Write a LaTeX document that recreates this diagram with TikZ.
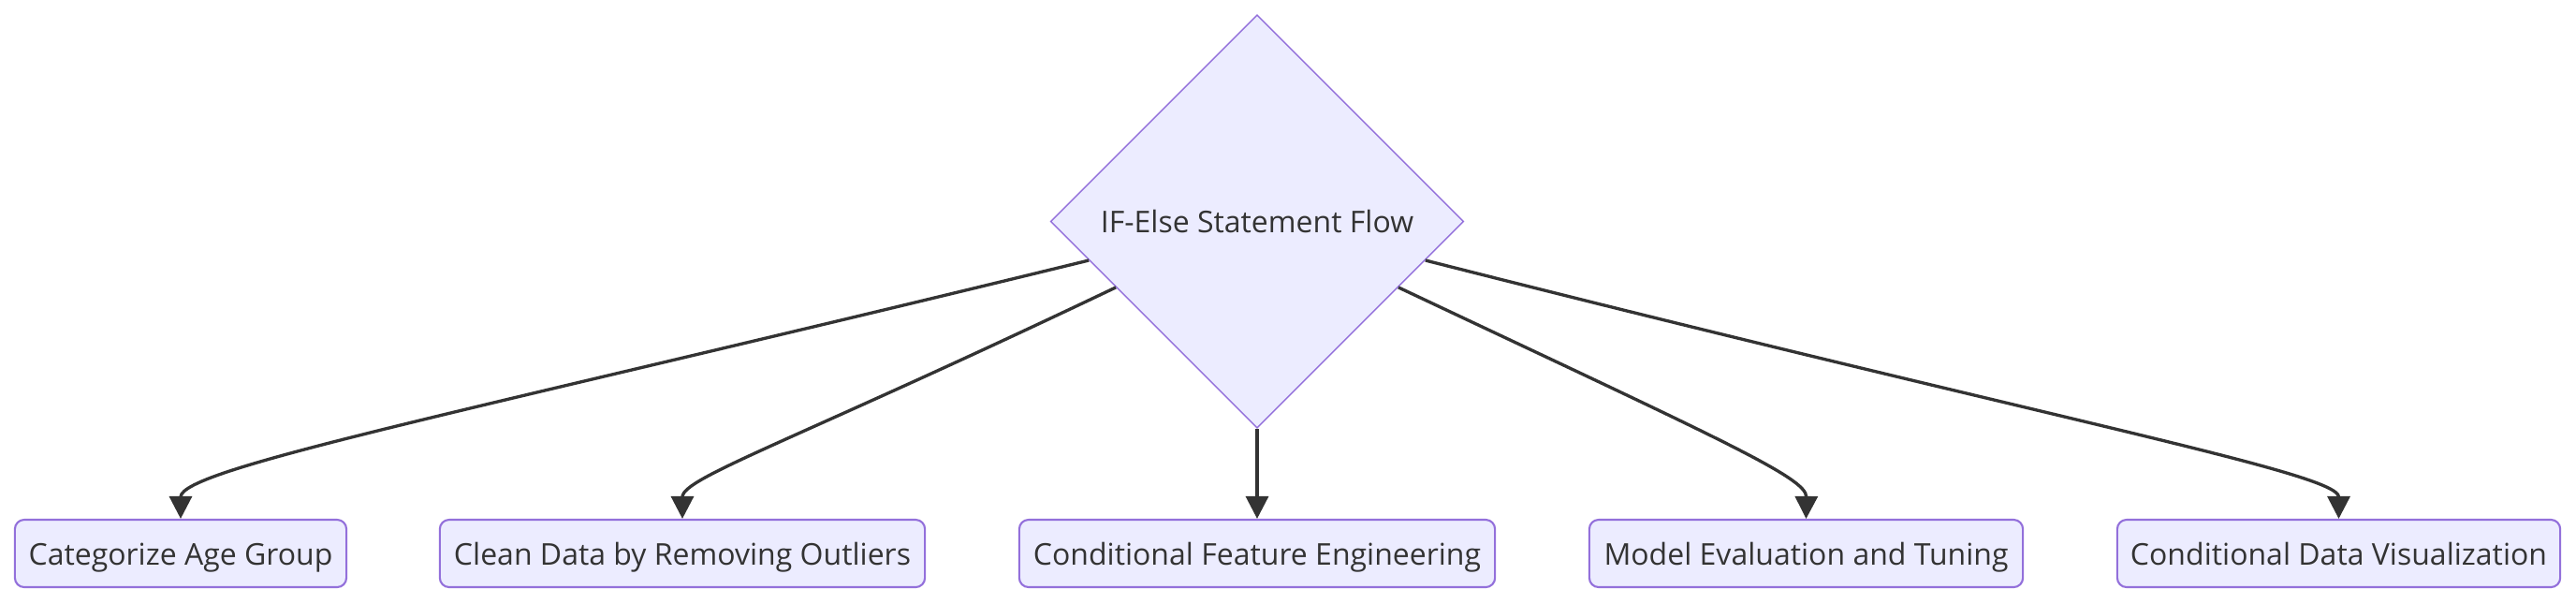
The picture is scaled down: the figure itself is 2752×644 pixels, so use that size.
\documentclass[tikz,border=0pt]{standalone}
\usepackage{fontspec}
\setmainfont{Open Sans}
\usetikzlibrary{shapes.geometric,arrows.meta}
\definecolor{nodefill}{HTML}{ECECFF}
\definecolor{nodeline}{HTML}{9370DB}
\definecolor{inkgray}{HTML}{333333}

\begin{document}
\begin{tikzpicture}[x=0.01cm, y=-0.01cm, >={Triangle[length=2.4mm,width=2.4mm]},
    every node/.style={font=\fontsize{9.1}{11}\selectfont, text=inkgray},
    decision/.style={diamond, aspect=1, draw=nodeline, fill=nodefill, line width=0.4pt, minimum size=4.41cm, inner sep=0pt},
    task/.style={rectangle, rounded corners=1mm, draw=nodeline, fill=nodefill, line width=0.6pt, minimum height=0.72cm, inner xsep=0pt, text height=0.90em, text depth=0.18em},
    flow/.style={->, draw=inkgray, line width=0.95pt}]
    \useasboundingbox (0,0) rectangle (2752,644);

    % --- 1. Rombo de decision ---
    \node[decision] (ifelse) at (1343,236.5) {IF-Else Statement Flow};

    % --- 2. Tareas ---
    \node[task, minimum width=3.54cm] (agegroup) at (193,591) {Categorize Age Group};
    \node[task, minimum width=5.18cm] (outliers) at (729,591) {Clean Data by Removing Outliers};
    \node[task, minimum width=5.08cm] (features) at (1343,591) {Conditional Feature Engineering};
    \node[task, minimum width=4.63cm] (tuning)   at (1929.5,591) {Model Evaluation and Tuning};
    \node[task, minimum width=4.73cm] (dataviz)  at (2498.5,591) {Conditional Data Visualization};

    % --- 3. Flechas ---
    \draw[flow] (ifelse.193) .. controls (500,440) and (193,500) .. (agegroup.north);
    \draw[flow] (ifelse.205) .. controls (850,470) and (729,510) .. (outliers.north);
    \draw[flow] (ifelse.south) -- (features.north);
    \draw[flow] (ifelse.335) .. controls (1840,470) and (1930,510) .. (tuning.north);
    \draw[flow] (ifelse.347) .. controls (2200,450) and (2498.5,505) .. (dataviz.north);
\end{tikzpicture}
\end{document}
